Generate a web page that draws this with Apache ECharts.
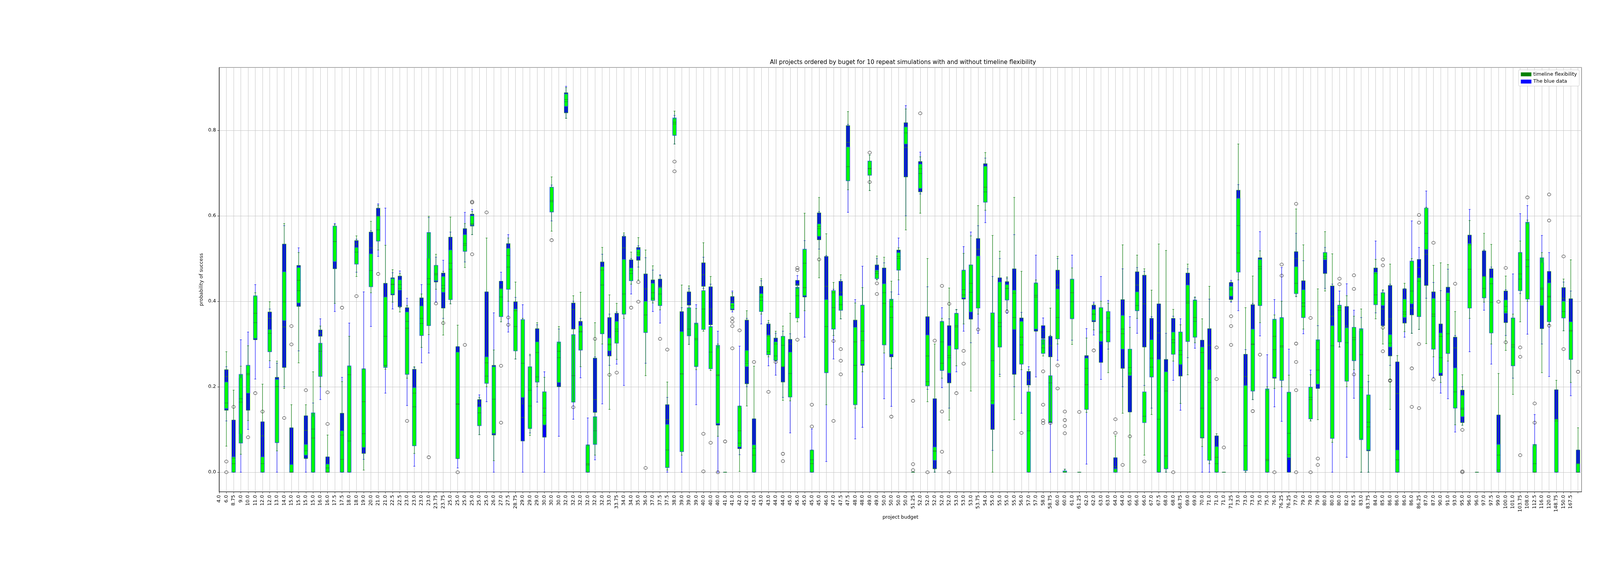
<!DOCTYPE html>
<html>
<head>
<meta charset="utf-8">
<script src="https://cdn.jsdelivr.net/npm/echarts/dist/echarts.min.js"></script>
<style>html,body{margin:0;padding:0;background:#fff}#chart{width:4500px;height:1440px}</style>
</head>
<body>
<div id="chart"></div>
<script>
// tick labels (project budget), one per tick position 0..187
const budgetLabels = [
'4.0','6.0','8.75','9.0','10.0','11.0','12.0','12.0','13.0','14.0','15.0','15.0','15.0','15.0','16.0','16.0','17.5','17.5','18.0','18.0',
'19.0','20.0','21.0','21.0','22.5','22.5','23.0','23.0','23.0','23.0','23.75','23.75','25.0','25.0','25.0','25.0','25.0','25.0','26.0','27.0',
'27.5','28.75','29.0','29.0','29.0','30.0','30.0','30.0','32.0','32.0','32.0','32.0','32.0','32.0','33.0','33.75','34.0','34.0','35.0','36.0',
'37.0','37.5','37.5','38.0','39.0','39.0','39.0','40.0','40.0','40.0','41.0','41.0','42.0','42.0','43.0','43.0','43.0','44.0','44.0','45.0',
'45.0','45.0','45.0','45.0','46.0','47.0','47.5','47.5','48.0','48.0','49.0','49.0','50.0','50.0','50.0','50.0','51.25','52.0','52.0','52.0',
'52.0','52.0','53.0','53.0','53.0','53.75','54.0','55.0','55.0','55.0','55.0','56.0','57.0','57.0','58.0','58.75','60.0','60.0','61.0','61.25',
'62.0','62.0','63.0','63.0','64.0','64.0','65.0','66.0','66.0','67.0','67.5','68.0','68.0','68.75','69.0','69.0','70.0','71.0','71.0','71.0',
'71.25','73.0','73.0','73.0','75.0','75.0','76.0','76.25','76.25','77.0','79.0','79.0','79.0','80.0','80.0','80.0','82.0','82.5','83.0','83.75',
'84.0','85.0','86.0','86.0','86.0','86.0','86.25','87.0','87.0','90.0','91.0','93.0','95.0','96.0','96.0','97.0','97.5','99.0','100.0','101.0',
'103.75','108.0','112.5','116.0','120.0','148.75','150.0','167.5'
];

// [whisker low, Q1, median, Q3, whisker high] per box, boxes at positions 1..188
const greenStats = [
[0.061,0.149,0.162,0.211,0.282],[0,0,0.033,0.036,0.192],[0.042,0.068,0.172,0.229,0.248],[0.121,0.185,0.231,0.25,0.296],[0.31,0.313,0.35,0.413,0.42],
[0,0,0.02,0.036,0.206],[0.261,0.282,0.325,0.334,0.399],[0.05,0.069,0.2,0.217,0.26],[0.196,0.355,0.399,0.469,0.582],[0,0,0,0.018,0.158],
[0.256,0.396,0.425,0.479,0.514],[0.032,0.04,0.05,0.065,0.158],[0,0,0.101,0.139,0.235],[0.2,0.224,0.283,0.302,0.342],[0,0,0.01,0.019,0.087],
[0.395,0.493,0.54,0.576,0.58],[0,0,0.087,0.097,0.212],[0,0,0.073,0.249,0.318],[0.458,0.487,0.515,0.526,0.553],[0.005,0.058,0.09,0.242,0.242],
[0.42,0.434,0.472,0.511,0.587],[0.52,0.541,0.567,0.599,0.625],[0.241,0.245,0.318,0.41,0.531],[0.398,0.417,0.439,0.453,0.474],[0.375,0.426,0.439,0.45,0.465],
[0.22,0.229,0.353,0.375,0.39],[0.044,0.062,0.153,0.198,0.247],[0.292,0.32,0.348,0.389,0.417],[0.322,0.343,0.453,0.561,0.599],[0.428,0.448,0.462,0.484,0.51],
[0.321,0.421,0.437,0.458,0.47],[0.394,0.404,0.475,0.52,0.597],[0.032,0.032,0.159,0.281,0.344],[0.479,0.517,0.535,0.556,0.582],[0.556,0.578,0.581,0.6,0.61],
[0.088,0.109,0.139,0.153,0.175],[0.2,0.208,0.225,0.27,0.548],[0.027,0.09,0.171,0.247,0.286],[0.352,0.364,0.41,0.429,0.44],[0.4,0.428,0.48,0.524,0.548],
[0.265,0.284,0.341,0.382,0.445],[0.16,0.175,0.255,0.357,0.36],[0.086,0.102,0.192,0.247,0.276],[0.2,0.211,0.223,0.305,0.35],[0.11,0.111,0.133,0.188,0.222],
[0.564,0.609,0.633,0.667,0.691],[0.2,0.21,0.268,0.305,0.341],[0.828,0.856,0.867,0.885,0.9],[0.164,0.164,0.226,0.322,0.413],[0.247,0.286,0.328,0.343,0.421],
[0,0,0.017,0.064,0.064],[0.04,0.065,0.097,0.13,0.35],[0.3,0.324,0.438,0.481,0.526],[0.147,0.284,0.298,0.314,0.415],[0.264,0.302,0.33,0.353,0.395],
[0.36,0.37,0.417,0.498,0.56],[0.44,0.448,0.465,0.478,0.515],[0.45,0.505,0.514,0.521,0.549],[0.226,0.327,0.368,0.4,0.52],[0.396,0.402,0.407,0.442,0.483],
[0.38,0.39,0.417,0.432,0.46],[0.005,0.011,0.052,0.112,0.211],[0.768,0.788,0.819,0.829,0.845],[0.04,0.048,0.23,0.329,0.438],[0.299,0.319,0.335,0.385,0.436],
[0.24,0.247,0.31,0.349,0.383],[0.33,0.334,0.382,0.425,0.537],[0.238,0.242,0.281,0.341,0.458],[0.084,0.114,0.226,0.297,0.3],[0,0,0,0,0],
[0.38,0.382,0.39,0.396,0.42],[0.002,0.059,0.068,0.155,0.155],[0.155,0.247,0.255,0.285,0.378],[0,0,0.056,0.064,0.248],[0.37,0.376,0.402,0.418,0.453],
[0.27,0.275,0.282,0.321,0.355],[0.26,0.262,0.272,0.305,0.33],[0.168,0.247,0.297,0.318,0.342],[0.167,0.176,0.231,0.281,0.372],[0.352,0.361,0.413,0.433,0.44],
[0.378,0.413,0.489,0.522,0.606],[0,0,0.029,0.052,0.052],[0.455,0.552,0.57,0.581,0.643],[0.158,0.233,0.341,0.404,0.558],[0.32,0.335,0.385,0.425,0.444],
[0.359,0.379,0.392,0.413,0.462],[0.661,0.682,0.715,0.761,0.844],[0.15,0.158,0.25,0.339,0.396],[0.235,0.253,0.33,0.391,0.432],[0.659,0.695,0.711,0.728,0.742],
[0.45,0.453,0.465,0.473,0.506],[0.279,0.298,0.42,0.441,0.503],[0.243,0.276,0.362,0.405,0.447],[0.45,0.473,0.5,0.514,0.525],[0.567,0.768,0.794,0.808,0.85],
[0,0,0,0,0],[0.606,0.664,0.699,0.721,0.738],[0.165,0.202,0.272,0.321,0.5],[0,0.028,0.049,0.059,0.3],[0.22,0.238,0.305,0.353,0.36],
[0.122,0.232,0.268,0.296,0.431],[0.249,0.288,0.343,0.372,0.381],[0.347,0.408,0.427,0.473,0.512],[0.19,0.375,0.421,0.485,0.553],[0.37,0.384,0.4,0.506,0.624],
[0.613,0.632,0.656,0.716,0.748],[0,0.159,0.261,0.373,0.554],[0.224,0.293,0.341,0.445,0.517],[0.38,0.403,0.43,0.439,0.457],[0.123,0.334,0.362,0.426,0.643],
[0.24,0.253,0.298,0.353,0.47],[0,0,0.097,0.188,0.24],[0.33,0.335,0.414,0.443,0.45],[0.272,0.278,0.291,0.311,0.33],[0.116,0.116,0.209,0.226,0.384],
[0.3,0.312,0.362,0.429,0.505],[0,0,0,0.003,0.007],[0.299,0.359,0.399,0.452,0.478],[0,0,0,0,0],[0.14,0.147,0.243,0.267,0.314],
[0.333,0.355,0.37,0.381,0.394],[0.3,0.306,0.329,0.385,0.4],[0.233,0.305,0.361,0.376,0.395],[0,0,0.005,0.008,0.085],[0.138,0.288,0.335,0.367,0.532],
[0,0.226,0.245,0.288,0.339],[0.36,0.378,0.39,0.422,0.508],[0.04,0.116,0.131,0.188,0.476],[0.135,0.223,0.246,0.31,0.426],[0,0,0.124,0.264,0.534],
[0,0.008,0.19,0.235,0.519],[0.26,0.276,0.303,0.328,0.381],[0.161,0.252,0.285,0.328,0.345],[0.228,0.306,0.396,0.438,0.487],[0.303,0.316,0.353,0.403,0.41],
[0.06,0.081,0.15,0.293,0.359],[0.02,0.028,0.21,0.24,0.435],[0,0,0.02,0.06,0.09],[0,0,0,0,0],[0.4,0.412,0.427,0.435,0.445],
[0.45,0.468,0.577,0.641,0.768],[0,0.004,0.062,0.203,0.385],[0.17,0.19,0.299,0.335,0.459],[0.35,0.39,0.476,0.498,0.518],[0,0,0.027,0.195,0.2],
[0.196,0.222,0.287,0.358,0.368],[0.2,0.215,0.293,0.362,0.4],[0.03,0.034,0.091,0.187,0.227],[0.411,0.418,0.442,0.481,0.616],[0.335,0.362,0.396,0.427,0.532],
[0.12,0.125,0.175,0.199,0.228],[0.123,0.206,0.287,0.31,0.429],[0.424,0.497,0.505,0.514,0.563],[0.07,0.079,0.296,0.343,0.511],[0.293,0.305,0.379,0.391,0.4],
[0.2,0.213,0.303,0.338,0.413],[0.24,0.261,0.31,0.339,0.365],[0,0.076,0.199,0.336,0.382],[0,0.052,0.117,0.181,0.227],[0.359,0.392,0.415,0.468,0.498],
[0.3,0.39,0.4,0.42,0.427],[0.147,0.293,0.302,0.322,0.487],[0,0,0.029,0.052,0.273],[0.329,0.362,0.375,0.405,0.442],[0.325,0.394,0.424,0.494,0.5],
[0.334,0.364,0.447,0.455,0.46],[0.301,0.521,0.559,0.618,0.62],[0.27,0.288,0.365,0.407,0.484],[0.21,0.232,0.268,0.326,0.49],[0.26,0.278,0.324,0.42,0.486],
[0.111,0.15,0.188,0.244,0.376],[0.11,0.13,0.15,0.18,0.228],[0.36,0.384,0.475,0.535,0.589],[0,0,0,0,0],[0.398,0.408,0.43,0.458,0.559],
[0.3,0.326,0.441,0.455,0.533],[0,0,0.04,0.065,0.231],[0.285,0.372,0.388,0.403,0.459],[0.182,0.249,0.293,0.361,0.37],[0.352,0.425,0.452,0.514,0.541],
[0.4,0.405,0.481,0.585,0.59],[0,0,0.02,0.065,0.065],[0.233,0.39,0.431,0.502,0.514],[0.345,0.352,0.412,0.443,0.45],[0,0,0.124,0.124,0.215],
[0.331,0.361,0.376,0.4,0.452],[0.21,0.264,0.332,0.352,0.497],[0,0,0,0.02,0.104]
];

const blueStats = [
[0.12,0.145,0.224,0.24,0.247],[0,0,0.02,0.122,0.122],[0,0.09,0.164,0.22,0.31],[0.1,0.145,0.228,0.25,0.328],[0.218,0.31,0.372,0.41,0.439],
[0,0,0.085,0.118,0.118],[0.245,0.282,0.36,0.375,0.382],[0,0.07,0.2,0.222,0.255],[0.2,0.245,0.34,0.534,0.577],[0,0,0,0.104,0.104],
[0.284,0.388,0.449,0.484,0.525],[0,0.032,0.098,0.132,0.132],[0,0,0.08,0.13,0.162],[0.17,0.318,0.325,0.333,0.359],[0,0,0,0.036,0.036],
[0.376,0.476,0.54,0.576,0.582],[0,0,0.03,0.138,0.222],[0,0,0.228,0.245,0.349],[0.468,0.487,0.534,0.542,0.545],[0.03,0.044,0.165,0.24,0.422],
[0.341,0.434,0.525,0.562,0.565],[0.505,0.541,0.599,0.618,0.628],[0.185,0.25,0.25,0.442,0.618],[0.382,0.415,0.44,0.455,0.467],[0.385,0.387,0.43,0.459,0.471],
[0.156,0.229,0.337,0.385,0.407],[0.014,0.062,0.185,0.241,0.245],[0.256,0.32,0.36,0.408,0.439],[0.279,0.343,0.44,0.5,0.596],[0.398,0.445,0.465,0.484,0.503],
[0.36,0.384,0.43,0.466,0.496],[0.394,0.404,0.489,0.55,0.562],[0.01,0.032,0.16,0.294,0.294],[0.492,0.517,0.531,0.57,0.608],[0.556,0.576,0.58,0.604,0.615],
[0.088,0.109,0.162,0.17,0.181],[0.165,0.208,0.256,0.422,0.422],[0,0.087,0.091,0.25,0.373],[0.352,0.364,0.43,0.447,0.468],[0.328,0.428,0.507,0.535,0.556],
[0.265,0.284,0.378,0.399,0.409],[0,0.073,0.128,0.357,0.392],[0.092,0.105,0.155,0.245,0.273],[0.164,0.211,0.28,0.336,0.345],[0,0.082,0.15,0.188,0.235],
[0.588,0.609,0.636,0.667,0.672],[0.084,0.2,0.283,0.3,0.335],[0.828,0.841,0.872,0.888,0.903],[0.124,0.335,0.381,0.396,0.4],[0.221,0.286,0.33,0.353,0.36],
[0,0,0.02,0.06,0.127],[0.029,0.14,0.17,0.267,0.27],[0.16,0.324,0.473,0.492,0.51],[0.25,0.272,0.3,0.362,0.37],[0.253,0.302,0.335,0.372,0.375],
[0.203,0.37,0.525,0.552,0.555],[0.417,0.448,0.472,0.497,0.5],[0.48,0.496,0.51,0.526,0.53],[0.255,0.327,0.429,0.464,0.502],[0.376,0.402,0.42,0.45,0.473],
[0.349,0.39,0.434,0.452,0.462],[0,0.011,0.123,0.158,0.175],[0.768,0.79,0.815,0.825,0.835],[0,0.048,0.23,0.376,0.385],[0.299,0.391,0.398,0.422,0.43],
[0.158,0.25,0.313,0.345,0.392],[0.43,0.435,0.462,0.49,0.503],[0.34,0.345,0.382,0.434,0.44],[0,0.11,0.228,0.29,0.33],[0,0,0,0,0],
[0.375,0.38,0.4,0.411,0.424],[0.041,0.055,0.097,0.15,0.295],[0.2,0.207,0.26,0.356,0.36],[0,0,0.04,0.125,0.125],[0.347,0.376,0.41,0.435,0.448],
[0.249,0.275,0.319,0.347,0.35],[0.227,0.262,0.3,0.314,0.325],[0.175,0.211,0.247,0.318,0.33],[0.092,0.176,0.3,0.311,0.324],[0.43,0.437,0.44,0.449,0.46],
[0.316,0.41,0.432,0.52,0.542],[0,0,0.02,0.05,0.101],[0.522,0.544,0.575,0.607,0.61],[0.025,0.233,0.435,0.505,0.507],[0.265,0.335,0.42,0.425,0.428],
[0.359,0.379,0.421,0.447,0.45],[0.608,0.682,0.772,0.811,0.814],[0.078,0.158,0.305,0.356,0.404],[0.105,0.25,0.308,0.39,0.482],[0.659,0.695,0.71,0.728,0.742],
[0.45,0.453,0.47,0.485,0.5],[0.172,0.298,0.395,0.478,0.49],[0.154,0.27,0.387,0.4,0.422],[0.416,0.473,0.505,0.52,0.548],[0.6,0.691,0.76,0.818,0.858],
[0,0,0,0,0],[0.651,0.656,0.71,0.727,0.749],[0.194,0.202,0.212,0.364,0.434],[0,0.008,0.05,0.172,0.172],[0.198,0.24,0.255,0.35,0.385],
[0.15,0.209,0.273,0.343,0.359],[0.235,0.29,0.34,0.37,0.38],[0.33,0.405,0.415,0.47,0.528],[0.303,0.358,0.442,0.485,0.562],[0.325,0.384,0.522,0.547,0.577],
[0.584,0.632,0.667,0.722,0.735],[0.051,0.1,0.167,0.373,0.458],[0.229,0.293,0.35,0.455,0.5],[0.372,0.403,0.43,0.446,0.454],[0.2,0.229,0.419,0.476,0.556],
[0.138,0.253,0.316,0.361,0.374],[0.2,0.204,0.216,0.236,0.247],[0.223,0.33,0.41,0.44,0.508],[0.3,0.313,0.335,0.343,0.361],[0,0.27,0.296,0.318,0.32],
[0.262,0.312,0.438,0.473,0.5],[0,0,0,0.003,0.007],[0.309,0.36,0.42,0.45,0.508],[0,0,0,0,0],[0.019,0.147,0.205,0.273,0.336],
[0.321,0.352,0.37,0.391,0.398],[0.217,0.257,0.326,0.385,0.458],[0.288,0.305,0.329,0.376,0.402],[0,0,0.013,0.034,0.034],[0.2,0.243,0.324,0.404,0.476],
[0.141,0.141,0.232,0.288,0.364],[0.325,0.378,0.438,0.469,0.479],[0.203,0.293,0.394,0.461,0.47],[0.15,0.223,0.267,0.36,0.364],[0,0,0.326,0.394,0.394],
[0,0.008,0.038,0.264,0.325],[0.215,0.276,0.31,0.36,0.365],[0.145,0.225,0.275,0.328,0.359],[0.268,0.306,0.4,0.466,0.476],[0.29,0.316,0.362,0.4,0.409],
[0,0.08,0.28,0.309,0.309],[0,0.028,0.297,0.336,0.405],[0,0,0.035,0.085,0.085],[0,0,0,0,0],[0.398,0.404,0.43,0.444,0.449],
[0.378,0.468,0.513,0.66,0.673],[0,0.004,0.224,0.276,0.287],[0.17,0.19,0.3,0.392,0.395],[0.319,0.39,0.481,0.502,0.563],[0,0,0.03,0.19,0.275],
[0.153,0.22,0.318,0.355,0.404],[0.119,0.215,0.296,0.36,0.479],[0,0,0.041,0.187,0.288],[0.411,0.418,0.5,0.516,0.559],[0.324,0.362,0.388,0.448,0.495],
[0.12,0.125,0.17,0.199,0.239],[0.196,0.196,0.239,0.305,0.343],[0.43,0.465,0.5,0.514,0.526],[0,0.079,0.365,0.436,0.44],[0.293,0.305,0.385,0.39,0.424],
[0.035,0.213,0.342,0.388,0.441],[0.173,0.261,0.315,0.339,0.379],[0,0.08,0.275,0.33,0.362],[0,0.05,0.106,0.18,0.212],[0.373,0.392,0.465,0.478,0.541],
[0.343,0.343,0.382,0.42,0.425],[0.25,0.272,0.359,0.437,0.44],[0,0,0.184,0.258,0.258],[0.316,0.349,0.37,0.429,0.43],[0.325,0.368,0.384,0.494,0.588],
[0.334,0.364,0.479,0.498,0.526],[0.407,0.437,0.51,0.618,0.658],[0.222,0.288,0.37,0.422,0.444],[0.185,0.226,0.318,0.347,0.425],[0.172,0.278,0.402,0.433,0.475],
[0.094,0.15,0.291,0.316,0.32],[0.11,0.116,0.147,0.192,0.2],[0.282,0.384,0.532,0.555,0.615],[0,0,0,0,0],[0.379,0.408,0.458,0.518,0.52],
[0.253,0.326,0.398,0.476,0.48],[0,0,0.005,0.134,0.134],[0.32,0.35,0.375,0.424,0.427],[0.22,0.249,0.298,0.36,0.464],[0.418,0.425,0.464,0.514,0.605],
[0.323,0.405,0.497,0.58,0.624],[0,0,0,0.06,0.135],[0.3,0.336,0.428,0.49,0.554],[0.224,0.352,0.41,0.47,0.514],[0,0,0.12,0.193,0.193],
[0.331,0.361,0.407,0.432,0.445],[0.179,0.264,0.33,0.406,0.424],[0,0,0.02,0.052,0.052]
];

// outliers: [box position, value]
const outlierPoints = [
[1,0.025],[1,0],[2,0.153],[4,0.082],[5,0.185],[6,0.142],[9,0.127],[10,0.342],[10,0.299],[12,0.192],[15,0.187],[15,0.113],[17,0.385],[19,0.412],
[22,0.464],[26,0.12],[29,0.035],[30,0.395],[31,0.349],[33,0],[34,0.298],[35,0.633],[35,0.631],[35,0.51],[37,0.608],[39,0.249],[39,0.116],
[40,0.362],[40,0.345],[46,0.543],[49,0.152],[52,0.312],[54,0.228],[55,0.233],[57,0.385],[58,0.445],[58,0.399],[59,0.01],[61,0.312],[62,0.287],
[63,0.727],[63,0.704],[67,0.09],[67,0.002],[68,0.069],[69,0],[70,0.072],[71,0.36],[71,0.352],[71,0.342],[71,0.29],[72,0.332],[74,0.258],
[76,0.188],[77,0.258],[78,0.043],[78,0.026],[80,0.478],[80,0.473],[80,0.31],[82,0.158],[82,0.107],[83,0.498],[85,0.307],[85,0.12],
[86,0.288],[86,0.261],[86,0.229],[90,0.748],[90,0.679],[91,0.442],[91,0.417],[93,0.13],[96,0.167],[96,0.019],[96,0.005],[97,0.84],[98,0],
[99,0.308],[100,0.436],[100,0.142],[100,0.048],[101,0.394],[101,0],[102,0.185],[103,0.284],[103,0.254],[105,0.334],[109,0.376],[111,0.092],
[114,0.236],[114,0.158],[114,0.121],[114,0.115],[115,0.115],[116,0.25],[116,0.196],[117,0.142],[117,0.122],[117,0.108],[117,0.091],[119,0.141],
[121,0.285],[124,0.124],[124,0.092],[125,0.017],[126,0.084],[128,0.025],[132,0],[138,0.292],[138,0.218],[139,0.058],[140,0.365],[140,0.342],
[140,0.298],[143,0.143],[144,0.275],[146,0],[147,0.486],[147,0.46],[149,0.628],[149,0.301],[149,0.258],[149,0.192],[149,0],[151,0.361],[151,0],
[152,0.032],[152,0.017],[155,0.453],[155,0.44],[157,0.461],[157,0.429],[157,0.229],[161,0.498],[161,0.484],[161,0.338],[161,0.283],[162,0.215],
[162,0.214],[165,0.243],[165,0.153],[166,0.602],[166,0.584],[166,0.3],[166,0.15],[168,0.537],[168,0.217],[171,0.441],[172,0.099],[172,0],
[172,0.002],[177,0.399],[178,0.478],[178,0.304],[180,0.292],[180,0.27],[180,0.04],[181,0.643],[182,0.161],[182,0.116],[184,0.65],[184,0.589],
[184,0.343],[186,0.505],[186,0.288],[188,0.235]
];

const BOX_W = 0.5, CAP_W = 0.25;
const toRows = stats => stats.map((s, i) => [i + 1].concat(s));

function boxRender(fill, stroke) {
  return function (params, api) {
    const x = api.value(0);
    const a = api.coord([x, api.value(2)]);
    const b = api.coord([x, api.value(4)]);
    const w = api.size([BOX_W, 0])[0];
    return {
      type: 'rect',
      shape: { x: a[0] - w / 2, y: b[1], width: w, height: Math.max(a[1] - b[1], 0) },
      style: { fill: fill, stroke: stroke, lineWidth: 1.2 }
    };
  };
}
function lineRender(color, medColor) {
  return function (params, api) {
    const x = api.value(0);
    const pMin = api.coord([x, api.value(1)]);
    const pQ1 = api.coord([x, api.value(2)]);
    const pMed = api.coord([x, api.value(3)]);
    const pQ3 = api.coord([x, api.value(4)]);
    const pMax = api.coord([x, api.value(5)]);
    const w = api.size([BOX_W, 0])[0];
    const cw = api.size([CAP_W, 0])[0];
    const st = { stroke: color, lineWidth: 1.25 };
    return {
      type: 'group',
      children: [
        { type: 'line', shape: { x1: pQ1[0], y1: pQ1[1], x2: pMin[0], y2: pMin[1] }, style: st },
        { type: 'line', shape: { x1: pQ3[0], y1: pQ3[1], x2: pMax[0], y2: pMax[1] }, style: st },
        { type: 'line', shape: { x1: pMin[0] - cw / 2, y1: pMin[1], x2: pMin[0] + cw / 2, y2: pMin[1] }, style: st },
        { type: 'line', shape: { x1: pMax[0] - cw / 2, y1: pMax[1], x2: pMax[0] + cw / 2, y2: pMax[1] }, style: st },
        { type: 'line', shape: { x1: pMed[0] - w / 2, y1: pMed[1], x2: pMed[0] + w / 2, y2: pMed[1] }, style: { stroke: medColor, lineWidth: 1.25 } }
      ]
    };
  };
}

const chart = echarts.init(document.getElementById('chart'), null, { renderer: 'canvas', devicePixelRatio: 1 });
const font = 'DejaVu Sans';
chart.setOption({
  animation: false,
  backgroundColor: '#ffffff',
  textStyle: { fontFamily: font, color: '#000' },
  title: {
    text: 'All projects ordered by buget for 10 repeat simulations with and without timeline flexibility',
    left: 1966, top: 148,
    textStyle: { fontFamily: font, fontSize: 15, fontWeight: 'normal', color: '#000' }
  },
  legend: {
    orient: 'vertical', right: 457, top: 179,
    padding: [5, 6, 5, 6], itemGap: 5.5, itemWidth: 27, itemHeight: 10,
    borderColor: '#cccccc', borderWidth: 1, borderRadius: 3, backgroundColor: 'rgba(255,255,255,0.85)',
    textStyle: { fontFamily: font, fontSize: 12.5, color: '#000' },
    selectedMode: false,
    data: [
      { name: 'timeline flexibility', icon: 'rect', itemStyle: { color: '#008000', borderWidth: 0 } },
      { name: 'The blue data', icon: 'rect', itemStyle: { color: '#0000ff', borderWidth: 0 } }
    ]
  },
  grid: {
    left: 561, right: 451, top: 173, bottom: 180, containLabel: false, outerBoundsMode: 'none',
    show: true, borderColor: '#222', borderWidth: 1.2, backgroundColor: 'transparent'
  },
  xAxis: {
    type: 'value', min: 0, max: 188.5, interval: 1,
    name: 'project budget', nameLocation: 'middle', nameGap: 56,
    nameTextStyle: { fontFamily: font, fontSize: 12.5, color: '#000' },
    axisLine: { show: true, onZero: false, lineStyle: { color: '#222', width: 1.2 } },
    axisTick: { show: true, inside: false, length: 4.4, lineStyle: { color: '#222', width: 1 } },
    axisLabel: {
      rotate: 90, margin: 8, fontFamily: font, fontSize: 12.5, color: '#000',
      hideOverlap: false, showMinLabel: true, showMaxLabel: false,
      formatter: function (v) {
        const i = Math.round(v);
        return (Math.abs(v - i) < 1e-6 && i >= 0 && i < budgetLabels.length) ? budgetLabels[i] : '';
      }
    },
    splitLine: { show: true, lineStyle: { color: '#c4c4c4', width: 1 } }
  },
  yAxis: {
    type: 'value', min: -0.0457, max: 0.947, splitNumber: 5,
    name: 'probability of success', nameLocation: 'middle', nameGap: 30, nameRotate: 90,
    nameTextStyle: { fontFamily: font, fontSize: 12.5, color: '#000' },
    axisLine: { show: true, onZero: false, lineStyle: { color: '#222', width: 1.2 } },
    axisTick: { show: true, inside: false, length: 4.4, lineStyle: { color: '#222', width: 1 } },
    axisLabel: {
      margin: 8, fontFamily: font, fontSize: 12.5, color: '#000', showMinLabel: false, showMaxLabel: false,
      formatter: function (v) { return (Math.abs(v) < 1e-9 ? 0 : v).toFixed(1); }
    },
    splitLine: { show: true, lineStyle: { color: '#c4c4c4', width: 1 } }
  },
  series: [
    { name: 'The blue data', type: 'custom', renderItem: boxRender('#0000ff', '#2f8f2f'),
      itemStyle: { color: '#0000ff' }, encode: { x: 0, y: [1, 2, 3, 4, 5] }, data: toRows(blueStats), z: 2, silent: true, clip: true },
    { name: 'timeline flexibility', type: 'custom', renderItem: boxRender('#00ff00', '#3050ff'),
      itemStyle: { color: '#008000' }, encode: { x: 0, y: [1, 2, 3, 4, 5] }, data: toRows(greenStats), z: 3, silent: true, clip: true },
    { name: 'blue lines', type: 'custom', renderItem: lineRender('#1a1aff', '#2f7f2f'),
      encode: { x: 0, y: [1, 2, 3, 4, 5] }, data: toRows(blueStats), z: 4, silent: true, clip: true },
    { name: 'green lines', type: 'custom', renderItem: lineRender('#1f8a1f', '#1f7f3f'),
      encode: { x: 0, y: [1, 2, 3, 4, 5] }, data: toRows(greenStats), z: 5, silent: true, clip: true },
    { name: 'outliers', type: 'scatter', symbol: 'circle', symbolSize: [8.5, 7.5],
      itemStyle: { color: 'rgba(0,0,0,0)', borderColor: '#000', borderWidth: 1.1 },
      data: outlierPoints, z: 6, silent: true }
  ]
});
</script>
</body>
</html>
